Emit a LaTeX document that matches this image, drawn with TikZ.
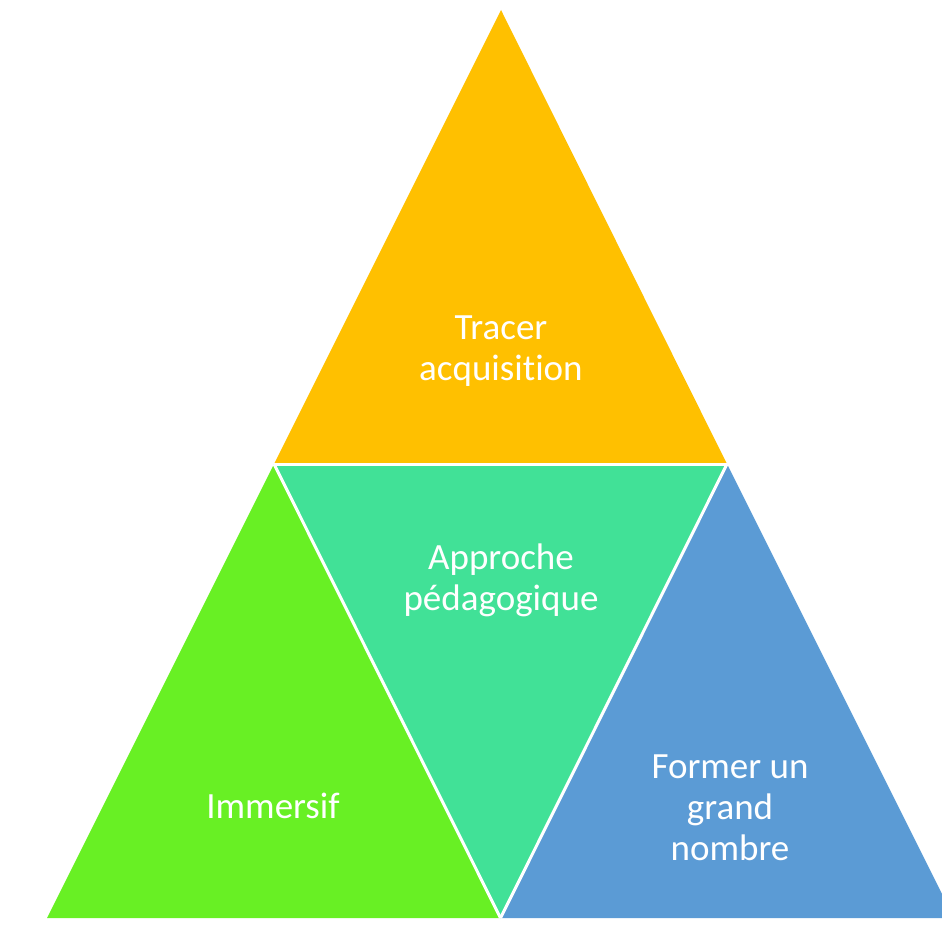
\documentclass[tikz,border=0pt]{standalone}
\usepackage{fontspec}
\setmainfont{Carlito}[Ligatures=NoCommon]
\usepackage{tikz}
\definecolor{orangeT}{RGB}{255,192,0}
\definecolor{greenT}{RGB}{104,240,36}
\definecolor{tealT}{RGB}{65,225,151}
\definecolor{blueT}{RGB}{91,155,213}
\tikzstyle{tri}=[draw=none]
\tikzstyle{gap}=[draw=white, line width=3pt]
\tikzstyle{lbl}=[align=center, text=white, font=\fontsize{37}{41}\selectfont, inner sep=0pt]

\begin{document}
\begin{tikzpicture}[x=1pt, y=-1pt]
	\useasboundingbox (0,0) rectangle (942,925);
	\clip (0,0) rectangle (942,925);
	\coordinate (top) at (501,10);
	\coordinate (ml) at (274,464);
	\coordinate (mr) at (727,464);
	\coordinate (bl) at (47,918);
	\coordinate (bm) at (500.5,918);
	\coordinate (br) at (954,918);
	\fill[tri, orangeT] (top) -- (ml) -- (mr) -- cycle;
	\fill[tri, greenT] (ml) -- (bl) -- (bm) -- cycle;
	\fill[tri, tealT] (ml) -- (mr) -- (bm) -- cycle;
	\fill[tri, blueT] (mr) -- (bm) -- (br) -- cycle;
	\draw[gap] (ml) -- (mr);
	\draw[gap] (ml) -- (bm);
	\draw[gap] (mr) -- (bm);
	\draw (501,351.5) node[lbl] (tracer) {Tracer\\acquisition};
	\draw (501,580.5) node[lbl] (approche) {Approche\\pédagogique};
	\draw (273,806) node[lbl] (immersif) {Immersif};
	\draw (730,808) node[lbl] (former) {Former un\\grand\\nombre};
\end{tikzpicture}
\end{document}
